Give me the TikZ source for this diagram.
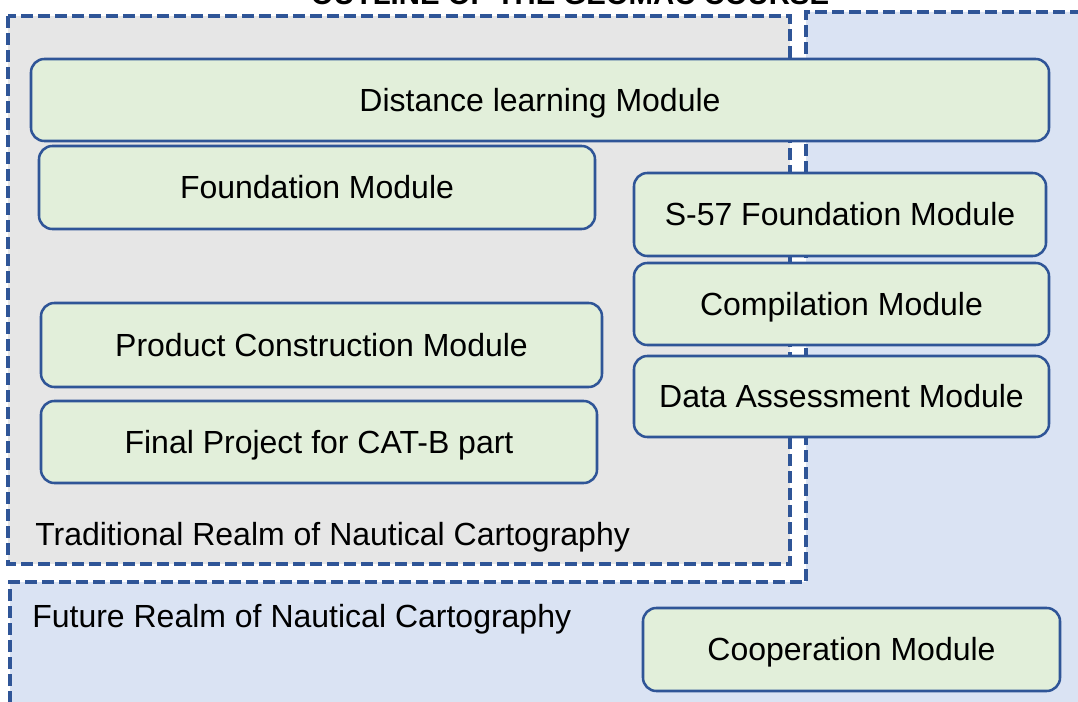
\documentclass[tikz,border=0pt]{standalone}
\usepackage{fontspec}
\setmainfont{Liberation Sans}
\definecolor{bordblue}{HTML}{2F5597}
\definecolor{greyfill}{HTML}{E6E6E6}
\definecolor{bluefill}{HTML}{DAE3F3}
\definecolor{greenfill}{HTML}{E2EFDA}
\tikzset{
  realm/.style={draw=bordblue, line width=3pt, dash pattern=on 9pt off 3.75pt},
  modbox/.style={draw=bordblue, fill=greenfill, line width=1.9pt, rounded corners=10pt,
     inner sep=0pt, text height=17.2pt, text depth=0pt, font=\fontsize{24}{28}\selectfont},
  realmlabel/.style={anchor=base west, inner sep=0pt, font=\fontsize{24}{28}\selectfont},
  titlelabel/.style={anchor=base, inner sep=0pt, font=\fontsize{22}{26}\selectfont\bfseries}
}
\begin{document}
\begin{tikzpicture}[x=0.75pt,y=-0.75pt]
\clip (0,0) rectangle (1078,702);
\fill[white] (0,0) rectangle (1078,702);
% future realm (L-shaped)
\draw[realm, fill=bluefill] (10,720) -- (10,582) -- (806,582) -- (806,12) -- (1100,12) -- (1100,720) -- cycle;
% traditional realm
\draw[realm, fill=greyfill] (8,16) rectangle (790,564);
% title
\node[titlelabel] (title) at (570,5) {OUTLINE OF THE GEOMAC COURSE};
% modules
\node[modbox, minimum width=763.5pt, minimum height=61.5pt] (dist) at (540,100) {Distance learning Module};
\node[modbox, minimum width=417pt, minimum height=62.25pt] (found) at (317,187.5) {Foundation Module};
\node[modbox, minimum width=309pt, minimum height=62.25pt] (s57) at (840,214.5) {S-57 Foundation Module};
\node[modbox, minimum width=311.25pt, minimum height=61.5pt] (comp) at (841.5,304) {Compilation Module};
\node[modbox, minimum width=311.25pt, minimum height=60.75pt] (data) at (841.5,396.5) {Data Assessment Module};
\node[modbox, minimum width=420.75pt, minimum height=63pt] (prod) at (321.5,345) {Product Construction Module};
\node[modbox, minimum width=417pt, minimum height=61.5pt] (final) at (319,442) {Final Project for CAT-B part};
\node[modbox, minimum width=312.75pt, minimum height=62.25pt] (coop) at (851.5,649.5) {Cooperation Module};
% realm labels
\node[realmlabel] (trad) at (35,545) {Traditional Realm of Nautical Cartography};
\node[realmlabel] (fut) at (32,627) {Future Realm of Nautical Cartography};
\end{tikzpicture}
\end{document}
